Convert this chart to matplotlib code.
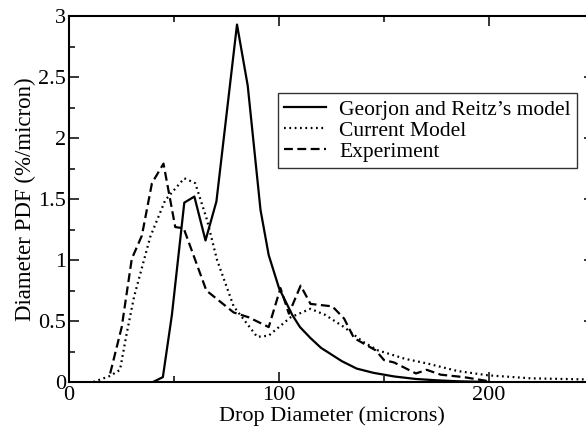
import matplotlib
matplotlib.use("Agg")
import matplotlib.pyplot as plt
from matplotlib.ticker import MultipleLocator

plt.rcParams['font.family'] = ['Liberation Serif', 'DejaVu Serif']

# Georjon and Reitz's model (solid)
georjon_x = [40, 44.7, 49, 54.9, 59.7, 65, 70.2, 80, 85.1, 91.2, 95.1, 100, 106.3,
             110, 115, 120, 130, 137, 145, 155, 165, 175, 185, 200]
georjon_y = [0.0, 0.04, 0.55, 1.47, 1.52, 1.16, 1.48, 2.93, 2.43, 1.41, 1.04, 0.77, 0.55,
             0.45, 0.36, 0.28, 0.17, 0.11, 0.075, 0.045, 0.025, 0.014, 0.006, 0.0]

# Current Model (dotted)
current_x = [11.6, 19.6, 24.3, 27.5, 31, 38.7, 45.8, 54.9, 60.1, 65.7, 70.5, 78.4, 89.6, 95.1,
             105.5, 115, 122, 131, 140, 147, 160, 171, 185, 199.4, 220, 250]
current_y = [0.0, 0.05, 0.1, 0.4, 0.7, 1.19, 1.49, 1.67, 1.63, 1.33, 1.0, 0.62, 0.37, 0.38,
             0.53, 0.60, 0.55, 0.45, 0.33, 0.26, 0.19, 0.15, 0.09, 0.055, 0.03, 0.02]

# Experiment (dashed)
exp_x = [19.6, 25.1, 29.9, 34.7, 39.5, 45, 50.6, 54.6, 65.4, 78.4, 85.6, 95.1, 100.7, 104.7,
         110.3, 115, 125.4, 131, 135.7, 146, 150, 154.8, 165.2, 170.3, 177, 188, 198.6, 200]
exp_y = [0.07, 0.45, 1.01, 1.2, 1.63, 1.79, 1.27, 1.26, 0.75, 0.57, 0.53, 0.45, 0.77, 0.56,
         0.79, 0.64, 0.62, 0.52, 0.36, 0.26, 0.18, 0.16, 0.07, 0.10, 0.06, 0.04, 0.01, 0.0]

labels = ["Georjon and Reitz\u2019s model", "Current Model", "Experiment"]

fig = plt.figure(figsize=(5.86, 4.29), dpi=100)
ax = fig.add_axes([69/586, 47/429, 525/586, 366/429])

ax.plot(georjon_x, georjon_y, color='black', lw=1.6, ls='-', label=labels[0])
ax.plot(current_x, current_y, color='black', lw=1.6, ls=(0, (0.8, 1.6)), label=labels[1])
ax.plot(exp_x, exp_y, color='black', lw=1.6, ls=(0, (4, 2)), label=labels[2])

ax.set_xlim(0, 250)
ax.set_ylim(0, 3)
ax.xaxis.set_minor_locator(MultipleLocator(50))
ax.yaxis.set_minor_locator(MultipleLocator(0.25))
ax.set_yticks([0, 0.5, 1, 1.5, 2, 2.5, 3])
ax.set_yticklabels(['0', '0.5', '1', '1.5', '2', '2.5', '3'])
ax.set_xticks([0, 100, 200])
ax.set_xticklabels(['0', '100', '200'])

ax.tick_params(which='both', direction='in', top=True, right=True, labelsize=16, width=1.1)
ax.tick_params(which='major', length=7)
ax.tick_params(axis='y', which='major', pad=2)
ax.tick_params(axis='x', which='major', pad=3)
ax.tick_params(which='minor', length=4)
for s in ax.spines.values():
    s.set_linewidth(1.5)

ax.set_xlabel("Drop Diameter (microns)", fontsize=16, labelpad=1)
ax.set_ylabel("Diameter PDF (%/micron)", fontsize=16.5, labelpad=2)

leg = ax.legend(loc='upper left', bbox_to_anchor=((278-69)/525, (382-93)/366),
                fontsize=15.5, frameon=True, fancybox=False, edgecolor='black',
                handlelength=1.95, handletextpad=0.6, borderpad=0.3, labelspacing=0.05,
                borderaxespad=0)
leg.get_frame().set_linewidth(1.0)

fig.savefig("out.png", dpi=100)
